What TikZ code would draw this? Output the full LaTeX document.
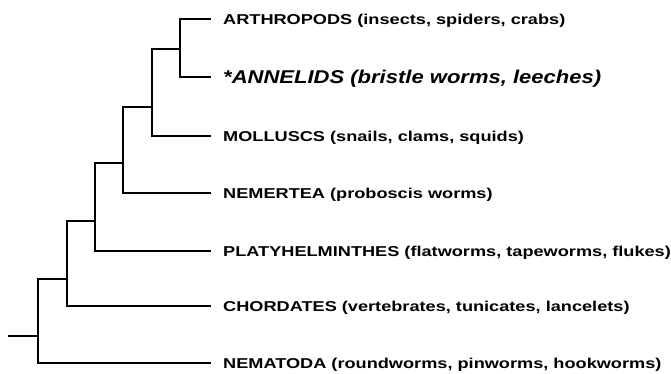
\documentclass[tikz,border=0pt]{standalone}
\usepackage{fontspec}
\setmainfont{Liberation Sans}
\newfontfamily\leaffont{Liberation Sans Bold}[FakeStretch=1.27]
\newfontfamily\bigleaffont{Liberation Sans Bold Italic}[FakeStretch=1.19]
\begin{document}
\begin{tikzpicture}[x=1pt,y=-1pt,
  branch/.style={line width=1.9pt,line cap=rect},
  leaf/.style={anchor=west,inner xsep=13pt,inner ysep=0pt,text height=10pt,text depth=0pt,font=\leaffont\fontsize{14.3}{17}\selectfont},
  bigleaf/.style={leaf,text height=13.3pt,font=\bigleaffont\fontsize{18.5}{21}\selectfont}]
\useasboundingbox (0,0) rectangle (671,373);
% leaves
\node[leaf] (arth) at (210,19) {ARTHROPODS (insects, spiders, crabs)};
\node[bigleaf] (anne) at (210,77) {*ANNELIDS (bristle worms, leeches)};
\node[leaf] (moll) at (210,136) {MOLLUSCS (snails, clams, squids)};
\node[leaf] (neme) at (210,193) {NEMERTEA (proboscis worms)};
\node[leaf] (plat) at (210,251) {PLATYHELMINTHES (flatworms, tapeworms, flukes)};
\node[leaf] (chor) at (210,306) {CHORDATES (vertebrates, tunicates, lancelets)};
\node[leaf] (nema) at (210,363) {NEMATODA (roundworms, pinworms, hookworms)};
% internal nodes
\coordinate (n1) at (180,49);
\coordinate (n2) at (152,107);
\coordinate (n3) at (123,163);
\coordinate (n4) at (95,221);
\coordinate (n5) at (67,279);
\coordinate (n6) at (38,336);
\coordinate (root) at (9,336);
% branches
\draw[branch] (n1) |- (arth.west);
\draw[branch] (n1) |- (anne.west);
\draw[branch] (n2) |- (n1);
\draw[branch] (n2) |- (moll.west);
\draw[branch] (n3) |- (n2);
\draw[branch] (n3) |- (neme.west);
\draw[branch] (n4) |- (n3);
\draw[branch] (n4) |- (plat.west);
\draw[branch] (n5) |- (n4);
\draw[branch] (n5) |- (chor.west);
\draw[branch] (n6) |- (n5);
\draw[branch] (n6) |- (nema.west);
\draw[branch] (root) -- (n6);
\end{tikzpicture}
\end{document}
